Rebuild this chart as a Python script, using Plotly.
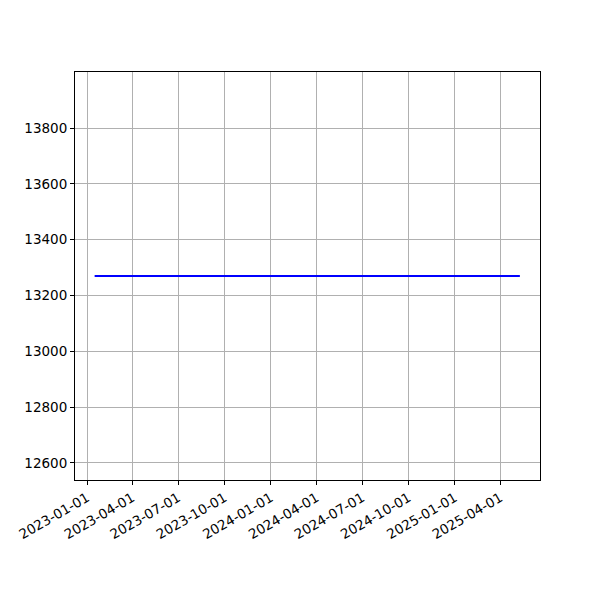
import plotly.graph_objects as go

dates = ["2023-01-16", "2025-05-10"]
values = [13270, 13270]
x_ticks = ["2023-01-01", "2023-04-01", "2023-07-01", "2023-10-01", "2024-01-01",
           "2024-04-01", "2024-07-01", "2024-10-01", "2025-01-01", "2025-04-01"]
y_ticks = [12600, 12800, 13000, 13200, 13400, 13600, 13800]

fig = go.Figure()
fig.add_trace(go.Scatter(x=dates, y=values, mode="lines",
                         line=dict(color="#0000ff", width=2), showlegend=False))

axis_common = dict(showline=True, linecolor="black", linewidth=1, mirror=True,
                   ticks="outside", ticklen=4, tickcolor="black", tickwidth=1,
                   showgrid=True, gridcolor="#b0b0b0", gridwidth=1, zeroline=False,
                   automargin=False,
                   tickfont=dict(family="DejaVu Sans", size=13.5, color="black"))

fig.update_xaxes(type="date", range=["2022-12-08", "2025-06-19"],
                 tickvals=x_ticks, ticktext=x_ticks, tickangle=-30, **axis_common)
fig.update_yaxes(range=[12539, 14001], tickvals=y_ticks,
                 ticktext=[str(v) for v in y_ticks], **axis_common)

fig.update_layout(width=600, height=600, plot_bgcolor="white", paper_bgcolor="white",
                  margin=dict(l=67, r=68, t=64, b=128),
                  font=dict(family="DejaVu Sans", size=13.5, color="black"))

fig.write_html("out.html")
